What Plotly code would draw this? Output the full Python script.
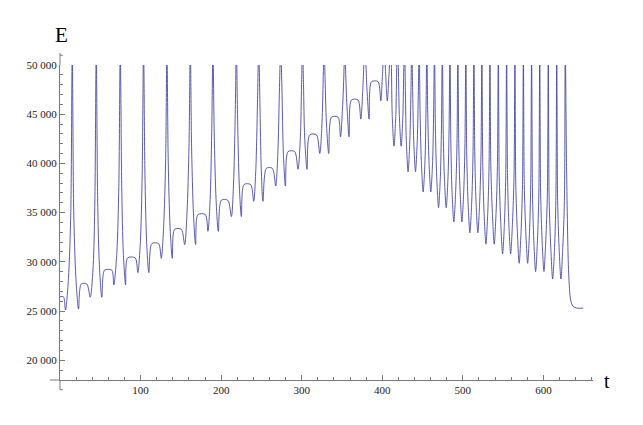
import plotly.graph_objects as go

# (t, E) points, spikes are cut at the top of the frame
rising = [
    (0, 26450), (4.3, 26450), (6.8, 25100),
    (10.5, 28300), (13.4, 35100), (15.2, 52000), (17.0, 35200), (19.7, 28400), (23.0, 25200),
    (26.3, 27750), (33.3, 27750),
    (37.5, 26400), (41.2, 29600), (43.3, 36400), (45.0, 52000), (46.7, 36400), (48.9, 29600), (51.9, 26400),
    (55.3, 29150), (64.3, 29150),
    (66.8, 27650), (70.5, 30850), (73.0, 37650), (74.8, 52000), (76.6, 37650), (78.6, 30850), (81.4, 27650),
    (83.9, 30400), (93.4, 30400),
    (96.6, 28900), (99.8, 32100), (102.0, 38900), (103.7, 52000), (105.4, 38900), (107.5, 32100), (110.3, 28900),
    (114.0, 31850), (122.4, 31850),
    (125.7, 30350), (128.6, 33550), (131.1, 40350), (132.7, 52000), (134.3, 40350), (136.6, 33550), (139.4, 30350),
    (142.2, 33300), (150.6, 33300),
    (154.7, 31750), (157.6, 34950), (160.1, 41750), (161.7, 52000), (163.3, 41750), (165.6, 34950), (168.3, 31750),
    (171.2, 34800), (180.4, 34800),
    (183.6, 33100), (186.3, 36300), (188.3, 43100), (189.8, 52000), (191.4, 43100), (193.7, 36300), (196.5, 33100),
    (200.2, 36250), (208.4, 36250),
    (212.7, 34600), (215.3, 37800), (217.4, 44600), (218.9, 52000), (220.4, 44600), (222.5, 37800), (225.1, 34600),
    (228.3, 37850), (236.6, 37850),
    (240.4, 36150), (243.0, 39350), (245.1, 46150), (246.6, 52000), (248.1, 46150), (249.8, 39350), (251.9, 36150),
    (256.1, 39500), (263.6, 39500),
    (267.7, 37700), (270.3, 40900), (272.4, 47700), (273.9, 52000), (275.4, 47700), (277.3, 40900), (279.8, 37700),
    (283.0, 41200), (291.3, 41200),
    (295.4, 39400), (298.3, 42600), (299.8, 48000), (301.0, 52000), (302.2, 48000), (303.7, 42600), (306.6, 39400),
    (309.9, 42900), (318.3, 42900),
    (322.4, 41000), (325.2, 44200), (326.6, 48500), (327.8, 52000), (329.0, 48500), (330.6, 44200), (333.5, 41000),
    (336.9, 44700), (345.1, 44700),
    (348.1, 42700), (350.8, 45900), (352.3, 49000), (353.4, 52000), (354.6, 49000), (356.1, 45900), (358.8, 42700),
    (361.7, 46450), (369.9, 46450),
    (373.3, 44500), (375.9, 47700), (378.4, 52000), (380.9, 47700), (383.6, 44500),
    (386.6, 48300), (394.8, 48300),
]

falling = [
    (398.1, 46350), (400.2, 49000), (402.2, 52000), (404.2, 49000), (406.2, 46350),
    (408.3, 49000), (410.3, 52000), (411.3, 49750), (412.3, 44950), (414.5, 41750),
    (416.8, 44950), (417.9, 49750), (418.9, 52000), (419.9, 49750), (421.1, 44950), (423.4, 41750),
    (425.6, 44950), (426.7, 49750), (427.7, 52000), (428.7, 47150), (429.8, 42350), (432.0, 39150),
    (434.2, 42350), (435.5, 47150), (436.6, 52000), (437.7, 47150), (439.0, 42350), (441.2, 39150),
    (443.4, 42350), (444.7, 47150), (445.8, 52000), (446.9, 45100), (448.4, 40300), (450.7, 37100),
    (453.0, 40300), (454.2, 45100), (455.3, 52000), (456.4, 45100), (457.9, 40300), (460.2, 37100),
    (462.5, 40300), (463.7, 45100), (464.8, 52000), (465.9, 43500), (467.5, 38700), (469.8, 35500),
    (472.1, 38700), (473.4, 43500), (474.5, 52000), (475.6, 43500), (477.0, 38700), (479.3, 35500),
    (481.6, 38700), (482.9, 43500), (484.0, 52000), (485.1, 42050), (486.5, 37250), (488.8, 34050),
    (491.1, 37250), (492.7, 42050), (493.8, 52000), (494.9, 42050), (496.5, 37250), (498.8, 34050),
    (501.1, 37250), (502.6, 42050), (503.7, 52000), (504.8, 40950), (506.4, 36150), (508.7, 32950),
    (511.0, 36150), (512.6, 40950), (513.7, 52000), (514.8, 40950), (516.3, 36150), (518.6, 32950),
    (520.9, 36150), (522.5, 40950), (523.6, 52000), (524.7, 39800), (526.3, 35000), (528.6, 31800),
    (530.9, 35000), (532.5, 39800), (533.6, 52000), (534.7, 39800), (536.6, 35000), (538.9, 31800),
    (541.2, 35000), (542.9, 39800), (544.0, 52000), (545.1, 38800), (547.0, 34000), (549.3, 30800),
    (551.6, 34000), (553.2, 38800), (554.3, 52000), (555.4, 38800), (557.0, 34000), (559.3, 30800),
    (561.6, 34000), (563.5, 38800), (564.6, 52000), (565.7, 37850), (567.6, 33050), (569.9, 29850),
    (572.2, 33050), (574.0, 37850), (575.1, 52000), (576.2, 37850), (578.1, 33050), (580.4, 29850),
    (582.7, 33050), (584.2, 37850), (585.3, 52000), (586.4, 37000), (588.0, 32200), (590.3, 29000),
    (592.6, 32200), (594.3, 37000), (595.4, 52000), (596.5, 37000), (598.3, 32200), (600.6, 29000),
    (602.9, 32200), (604.9, 37000), (606.0, 52000), (607.1, 36250), (609.1, 31450), (611.4, 28250),
    (613.8, 31450), (615.4, 36250), (616.5, 52000), (617.6, 36250), (619.4, 31450), (621.7, 28250),
    (624.0, 31450), (626.0, 36250), (627.1, 52000),
]

tail = [
    (628.8, 39000), (631.3, 28850), (633.8, 26100), (636.5, 25500), (641.2, 25300), (649.4, 25300),
]

x_ticks = [100, 200, 300, 400, 500, 600]
y_ticks = [20000, 25000, 30000, 35000, 40000, 45000, 50000]

pts = rising + falling + tail
t = [p[0] for p in pts]
E = [p[1] for p in pts]

axis_col = '#7a7a7a'
font = 'Liberation Serif'

fig = go.Figure()
fig.add_trace(go.Scatter(
    x=t, y=E, mode='lines',
    line=dict(color='rgb(72,72,165)', width=0.9, shape='spline', smoothing=0.8),
    hoverinfo='skip', showlegend=False,
))

common = dict(
    showgrid=False, zeroline=False, showline=True, linecolor=axis_col, linewidth=1,
    ticks='inside', ticklen=5, tickcolor=axis_col, tickwidth=1,
    tickfont=dict(family=font, size=11, color='#222'),
)
fig.update_xaxes(range=[0, 661.5], tickvals=x_ticks,
                 minor=dict(dtick=20, tick0=0, ticks='inside', ticklen=3, tickcolor=axis_col),
                 **common)
fig.update_yaxes(range=[17990, 50000], tickvals=y_ticks, tickformat=',d',
                 minor=dict(dtick=1000, tick0=0, ticks='inside', ticklen=3, tickcolor=axis_col),
                 **common)

# axis lines run a little past the frame, Mathematica style
ln = dict(color=axis_col, width=1)
for x0, y0, x1, y1 in [(0, 1, 0, 1.038), (0, -0.032, 0, 0), (-0.019, 0, 0, 0),
                       (0, 1.031, 0.0056, 1.031), (0, -0.031, 0.0056, -0.031)]:
    fig.add_shape(type='line', xref='paper', yref='paper', x0=x0, y0=y0, x1=x1, y1=y1, line=ln)

fig.add_annotation(text='E', xref='paper', yref='paper', x=0.003, y=1.094,
                   xanchor='center', yanchor='middle',
                   showarrow=False, font=dict(family=font, size=21, color='black'))
fig.add_annotation(text='t', xref='paper', yref='paper', x=1.026, y=-0.003,
                   xanchor='center', yanchor='middle',
                   showarrow=False, font=dict(family=font, size=20, color='black'))

# page body has an 8px margin, so the figure is a bit smaller and shifted
fig.update_layout(
    width=635, height=417,
    margin=dict(l=52, r=50, t=57, b=45),
    plot_bgcolor='white', paper_bgcolor='white',
    separators='. ',
)

fig.write_html("out.html")
